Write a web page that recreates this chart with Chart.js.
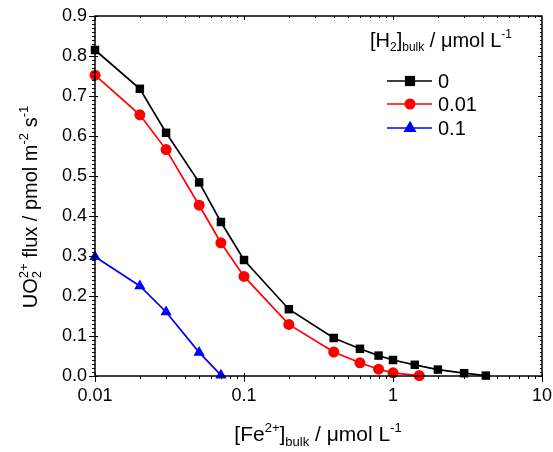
<!DOCTYPE html>
<html><head><meta charset="utf-8">
<script src="https://cdn.jsdelivr.net/npm/chart.js@4/dist/chart.umd.min.js"></script>
<style>html,body{margin:0;padding:0;background:#fff}#wrap{width:553px;height:452px}</style>
</head><body><div id="wrap"><canvas id="c" width="553" height="452"></canvas></div>
<script>
const seriesNames = ['0', '0.01', '0.1'];
const fe_h0 = [0.01,0.02,0.03,0.05,0.07,0.1,0.2,0.4,0.6,0.8,1,1.4,2,3,4.2];
const flux_h0 = [0.815,0.718,0.608,0.484,0.385,0.290,0.167,0.095,0.068,0.051,0.040,0.028,0.016,0.007,0.001];
const fe_h001 = [0.01,0.02,0.03,0.05,0.07,0.1,0.2,0.4,0.6,0.8,1,1.5];
const flux_h001 = [0.752,0.653,0.566,0.427,0.333,0.249,0.129,0.060,0.033,0.017,0.008,0.001];
const fe_h01 = [0.01,0.02,0.03,0.05,0.07];
const flux_h01 = [0.298,0.225,0.160,0.059,0.002];
const xTickLabels = [0.01, 0.1, 1, 10];
const yTicks = [0,0.1,0.2,0.3,0.4,0.5,0.6,0.7,0.8,0.9];

const FONT = '"Liberation Sans", Arial, sans-serif';
const pts = (xs, ys) => xs.map((x, i) => ({x, y: ys[i]}));

function richWidth(ctx, parts, big, small) {
  let w = 0;
  for (const p of parts) {
    if (p.m === 'n') { ctx.font = big + 'px ' + FONT; w += ctx.measureText(p.t).width; }
    else if (p.m === 'ss') { ctx.font = small + 'px ' + FONT; w += Math.max(ctx.measureText(p.sub).width, ctx.measureText(p.sup).width); }
    else { ctx.font = small + 'px ' + FONT; w += ctx.measureText(p.t).width; }
  }
  return w;
}
function drawRich(ctx, parts, x, y, big, small) {
  ctx.textBaseline = 'alphabetic'; ctx.textAlign = 'left'; ctx.fillStyle = '#000';
  let cx = x;
  for (const p of parts) {
    if (p.m === 'n') { ctx.font = big + 'px ' + FONT; ctx.fillText(p.t, cx, y); cx += ctx.measureText(p.t).width; }
    else if (p.m === 'sup') { ctx.font = small + 'px ' + FONT; ctx.fillText(p.t, cx, y - big * 0.45); cx += ctx.measureText(p.t).width; }
    else if (p.m === 'sub') { ctx.font = small + 'px ' + FONT; ctx.fillText(p.t, cx, y + big * 0.22); cx += ctx.measureText(p.t).width; }
    else if (p.m === 'ss') {
      ctx.font = small + 'px ' + FONT;
      ctx.fillText(p.sup, cx, y - big * 0.45);
      ctx.fillText(p.sub, cx, y + big * 0.22);
      cx += Math.max(ctx.measureText(p.sub).width, ctx.measureText(p.sup).width);
    }
  }
}

const yTitle = [{m:'n',t:'UO'},{m:'ss',sub:'2',sup:'2+'},{m:'n',t:' flux / pmol m'},{m:'sup',t:'-2'},{m:'n',t:' s'},{m:'sup',t:'-1'}];
const xTitle = [{m:'n',t:'[Fe'},{m:'sup',t:'2+'},{m:'n',t:']'},{m:'sub',t:'bulk'},{m:'n',t:' / \u03bcmol L'},{m:'sup',t:'-1'}];
const legTitle = [{m:'n',t:'[H'},{m:'sub',t:'2'},{m:'n',t:']'},{m:'sub',t:'bulk'},{m:'n',t:' / \u03bcmol L'},{m:'sup',t:'-1'}];

const decor = {
  id: 'decor',
  afterDraw(chart) {
    const ctx = chart.ctx, a = chart.chartArea, xs = chart.scales.x, ys = chart.scales.y;
    ctx.save();
    ctx.strokeStyle = '#000';
    ctx.lineWidth = 1.5;
    ctx.strokeRect(a.left, a.top, a.right - a.left, a.bottom - a.top);
    ctx.lineWidth = 1;
    ctx.beginPath();
    for (let i = 0; i <= 90; i++) {
      const v = i / 100, py = Math.round(ys.getPixelForValue(v)) + 0.5;
      const major = i % 10 === 0;
      ctx.moveTo(a.left - (major ? 6 : 3), py); ctx.lineTo(a.left + (major ? 3 : 0), py);
      ctx.moveTo(a.right, py); ctx.lineTo(a.right - (major ? 4 : 2), py);
    }
    for (let d = -2; d < 1; d++) {
      for (let k = 1; k <= 9; k++) {
        const v = k * Math.pow(10, d), px = Math.round(xs.getPixelForValue(v)) + 0.5;
        const major = k === 1;
        ctx.moveTo(px, a.bottom + (major ? 6 : 3)); ctx.lineTo(px, a.bottom - (major ? 3 : 0));
        ctx.moveTo(px, a.top); ctx.lineTo(px, a.top + (major ? 4 : 2));
      }
    }
    const p10 = Math.round(xs.getPixelForValue(10)) + 0.5;
    ctx.moveTo(p10, a.bottom + 6); ctx.lineTo(p10, a.bottom - 3);
    ctx.stroke();

    const w1 = richWidth(ctx, xTitle, 21, 13);
    drawRich(ctx, xTitle, 318 - w1 / 2, 441, 21, 13);
    const w2 = richWidth(ctx, yTitle, 20, 13);
    ctx.save();
    ctx.translate(37, 207);
    ctx.rotate(-Math.PI / 2);
    drawRich(ctx, yTitle, -w2 / 2, 0, 20, 13);
    ctx.restore();

    drawRich(ctx, legTitle, 370, 47, 20, 12);
    const rows = [81, 104, 128];
    chart.data.datasets.forEach((ds, i) => {
      const y = rows[i];
      ctx.strokeStyle = ds.borderColor; ctx.lineWidth = 1.7;
      ctx.beginPath(); ctx.moveTo(387, y); ctx.lineTo(432, y); ctx.stroke();
      ctx.fillStyle = ds.pointBackgroundColor;
      const r = ds.pointRadius;
      ctx.beginPath();
      if (ds.pointStyle === 'rect') { ctx.fillRect(410 - r * 0.85, y - r * 0.85, r * 1.7, r * 1.7); }
      else if (ds.pointStyle === 'circle') { ctx.arc(410, y, r, 0, Math.PI * 2); ctx.fill(); }
      else { ctx.moveTo(410, y - r * 1.1); ctx.lineTo(410 + r, y + r * 0.6); ctx.lineTo(410 - r, y + r * 0.6); ctx.closePath(); ctx.fill(); }
      ctx.fillStyle = '#000'; ctx.font = '20px ' + FONT; ctx.textBaseline = 'middle'; ctx.textAlign = 'left';
      ctx.fillText(seriesNames[i], 438, y + 1);
    });
    ctx.restore();
  }
};

new Chart(document.getElementById('c'), {
  type: 'line',
  data: {
    datasets: [
      {label: seriesNames[0], data: pts(fe_h0, flux_h0), borderColor: '#000', backgroundColor: '#000', pointBackgroundColor: '#000', pointBorderColor: '#000', pointStyle: 'rect', pointRadius: 6, borderWidth: 1.7, pointBorderWidth: 0, tension: 0, clip: false},
      {label: seriesNames[1], data: pts(fe_h001, flux_h001), borderColor: '#ff0000', backgroundColor: '#ff0000', pointBackgroundColor: '#ff0000', pointBorderColor: '#ff0000', pointStyle: 'circle', pointRadius: 5.5, borderWidth: 1.7, pointBorderWidth: 0, tension: 0, clip: false},
      {label: seriesNames[2], data: pts(fe_h01, flux_h01), borderColor: '#0000ff', backgroundColor: '#0000ff', pointBackgroundColor: '#0000ff', pointBorderColor: '#0000ff', pointStyle: 'triangle', pointRadius: 6.5, borderWidth: 1.7, pointBorderWidth: 0, tension: 0, clip: false}
    ]
  },
  options: {
    responsive: false, animation: false, devicePixelRatio: 1,
    layout: {padding: {left: 0, right: 11, top: 16, bottom: 0}},
    plugins: {legend: {display: false}, tooltip: {enabled: false}},
    scales: {
      x: {
        type: 'logarithmic', min: 0.01, max: 10,
        grid: {display: false, drawTicks: false}, border: {display: false},
        afterBuildTicks(s) { s.ticks = xTickLabels.map(v => ({value: v})); },
        afterFit(s) { s.height = 76; s.paddingLeft = 0; s.paddingRight = 0; },
        ticks: {color: '#000', font: {family: FONT, size: 18}, padding: 9, maxRotation: 0, autoSkip: false,
          callback: v => String(v)}
      },
      y: {
        min: 0, max: 0.9,
        grid: {display: false, drawTicks: false}, border: {display: false},
        afterBuildTicks(s) { s.ticks = yTicks.map(v => ({value: v})); },
        afterFit(s) { s.width = 95; s.paddingTop = 0; s.paddingBottom = 0; },
        ticks: {color: '#000', font: {family: FONT, size: 18}, padding: 8, callback: v => Number(v).toFixed(1)}
      }
    }
  },
  plugins: [decor]
});
</script></body></html>
